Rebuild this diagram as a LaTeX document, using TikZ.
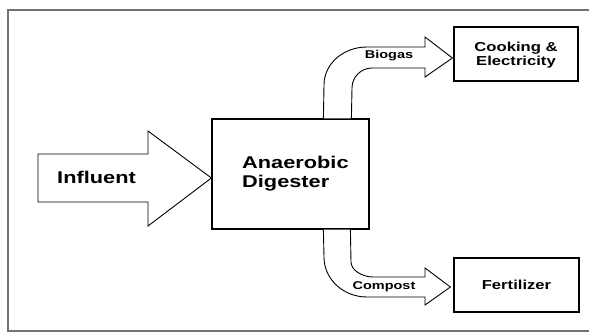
\documentclass[tikz,border=0pt]{standalone}
\usepackage{fontspec}
\setmainfont{Liberation Sans}
\usetikzlibrary{calc}

\newcommand\wide[1]{\scalebox{1.28}[1]{#1}}

\tikzset{
    box/.style={draw, line width=1.2pt, inner sep=0pt},
    flow/.style={draw, line width=0.9pt, fill=white, line join=miter},
    tag/.style={inner sep=0pt, font=\bfseries},
}

\begin{document}
\begin{tikzpicture}[x=1pt, y=-1pt]
\useasboundingbox (0,0) rectangle (589,332);

\draw[black!55, line width=1.6pt] (589,10) -- (8,10) -- (8,331) -- (589,331);

\node[box, minimum width=157pt, minimum height=110pt] (dig) at (290.5,174) {};
\node[box, minimum width=124pt, minimum height=54pt] (cook) at (516,54) {};
\node[box, minimum width=125pt, minimum height=54pt] (fert) at (516.5,285) {};

\coordinate (in-tip) at ($(dig.west)+(0,4)$);
\coordinate (gas-tip) at ($(cook.west)+(-1,4)$);
\coordinate (dung-tip) at ($(fert.west)+(-3,2)$);

\draw[flow] (in-tip) -- (148,131) -- (148,154) -- (38,154) -- (38,202)
    -- (148,202) -- (148,226) -- cycle;

\draw[flow] ($(dig.north west)+(112,0)$) -- (324,85)
    .. controls (324,64) and (343,47) .. (367,47) -- (425,47) -- (425,37)
    -- (gas-tip) -- (425,77) -- (425,68) -- (372,68)
    .. controls (361,68) and (352,77) .. (352,88)
    -- ($(dig.north west)+(140,0)$);

\draw[flow] ($(dig.south west)+(112,0)$) -- (324,257)
    .. controls (324,279) and (343,297) .. (367,297) -- (425,297) -- (425,305)
    -- (dung-tip) -- (425,268) -- (425,277) -- (373,277)
    .. controls (362,277) and (351,270) .. (351,262)
    -- ($(dig.south west)+(139,0)$);

\node[tag, anchor=base, font=\bfseries\fontsize{17}{20}\selectfont]
    (in-label) at (96.5,183) {\wide{Influent}};
\node[tag, anchor=base west, font=\bfseries\fontsize{17}{19}\selectfont]
    (dig-label) at (242,168)
    {\wide{\begin{tabular}[t]{@{}l@{}}Anaerobic\\Digester\end{tabular}}};
\node[tag, anchor=base, font=\bfseries\fontsize{13}{14.5}\selectfont]
    (cook-label) at (516,51)
    {\wide{\begin{tabular}[t]{@{}c@{}}Cooking \&\\Electricity\end{tabular}}};
\node[tag, anchor=base, font=\bfseries\fontsize{13}{15}\selectfont]
    (fert-label) at (516.5,289) {\wide{Fertilizer}};
\node[tag, anchor=base, font=\bfseries\fontsize{11.3}{13}\selectfont]
    (gas-label) at (389,58.5) {\wide{Biogas}};
\node[tag, anchor=base, font=\bfseries\fontsize{11.3}{13}\selectfont]
    (dung-label) at (384,289.5) {\wide{Compost}};
\end{tikzpicture}
\end{document}
